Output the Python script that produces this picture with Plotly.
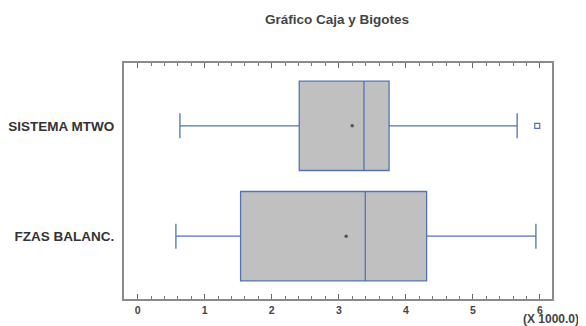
import plotly.graph_objects as go

categories = ["SISTEMA MTWO", "FZAS BALANC."]
q1 = [2410, 1535]
median = [3375, 3395]
q3 = [3750, 4310]
lower_whisker = [630, 570]
upper_whisker = [5660, 5940]
mean = [3200, 3110]
outlier_values = [5960]
outlier_cats = ["SISTEMA MTWO"]
tick_vals = [0, 1000, 2000, 3000, 4000, 5000, 6000]
tick_text = ["<b>0</b>", "<b>1</b>", "<b>2</b>", "<b>3</b>", "<b>4</b>", "<b>5</b>", "<b>6</b>"]

line_col = "#5074b4"
fill_col = "#c0c0c0"
font_fam = "Liberation Sans, Arial, sans-serif"

# page has an 8px body margin, so the figure is drawn 8px smaller and offset
W, H = 578, 318
L, R, T, B = 116, 34, 55, 27

fig = go.Figure()
fig.add_trace(go.Box(
    y=categories, q1=q1, median=median, q3=q3,
    lowerfence=lower_whisker, upperfence=upper_whisker,
    orientation="h", fillcolor=fill_col,
    line=dict(color=line_col, width=1.3),
    width=0.81, whiskerwidth=0.28, boxpoints=False, showlegend=False,
    hoverinfo="skip",
))
fig.add_trace(go.Scatter(
    x=mean, y=categories, mode="markers",
    marker=dict(size=3.5, color="#555555"), showlegend=False,
))
fig.add_trace(go.Scatter(
    x=outlier_values, y=outlier_cats, mode="markers",
    marker=dict(size=5, symbol="square-open", color=line_col, line=dict(width=1.2)),
    showlegend=False,
))

fig.update_layout(
    width=W, height=H,
    margin=dict(l=L, r=R, t=T, b=B, autoexpand=False),
    paper_bgcolor="white", plot_bgcolor="white",
    font=dict(family=font_fam, color="#444444"),
    title=dict(text="<b>Gráfico Caja y Bigotes</b>", x=329 / W, xanchor="center",
               y=1 - 11 / H, yanchor="middle", font=dict(size=13.5, color="#444444")),
    xaxis=dict(
        range=[-204, 6180], tickvals=tick_vals, ticktext=tick_text,
        showgrid=False, zeroline=False, automargin=False,
        showline=True, linecolor="#8a8a8a", linewidth=2, mirror="ticks",
        ticks="inside", ticklen=5, tickcolor="#666666", tickwidth=1,
        minor=dict(ticks="inside", dtick=200, tick0=0, ticklen=3, tickcolor="#777777", showgrid=False),
        tickfont=dict(size=10.5, color="#444444", family=font_fam),
    ),
    yaxis=dict(
        categoryorder="array", categoryarray=["FZAS BALANC.", "SISTEMA MTWO"],
        range=[-0.57, 1.57], showgrid=False, zeroline=False, automargin=False,
        showline=True, linecolor="#8a8a8a", linewidth=2, mirror=True,
        ticks="", ticklabelstandoff=5,
        tickfont=dict(size=13.5, color="#333333", family=font_fam),
        tickvals=categories, ticktext=["<b>" + c + "</b>" for c in categories],
    ),
)
fig.add_annotation(
    text="<b>(X 1000.0)</b>", xref="paper", yref="paper",
    x=(543 - L) / (W - L - R), y=-(311 - (H - B)) / (H - T - B),
    xanchor="center", yanchor="middle", showarrow=False,
    font=dict(size=12, color="#444444", family=font_fam),
)

fig.write_html("out.html")
